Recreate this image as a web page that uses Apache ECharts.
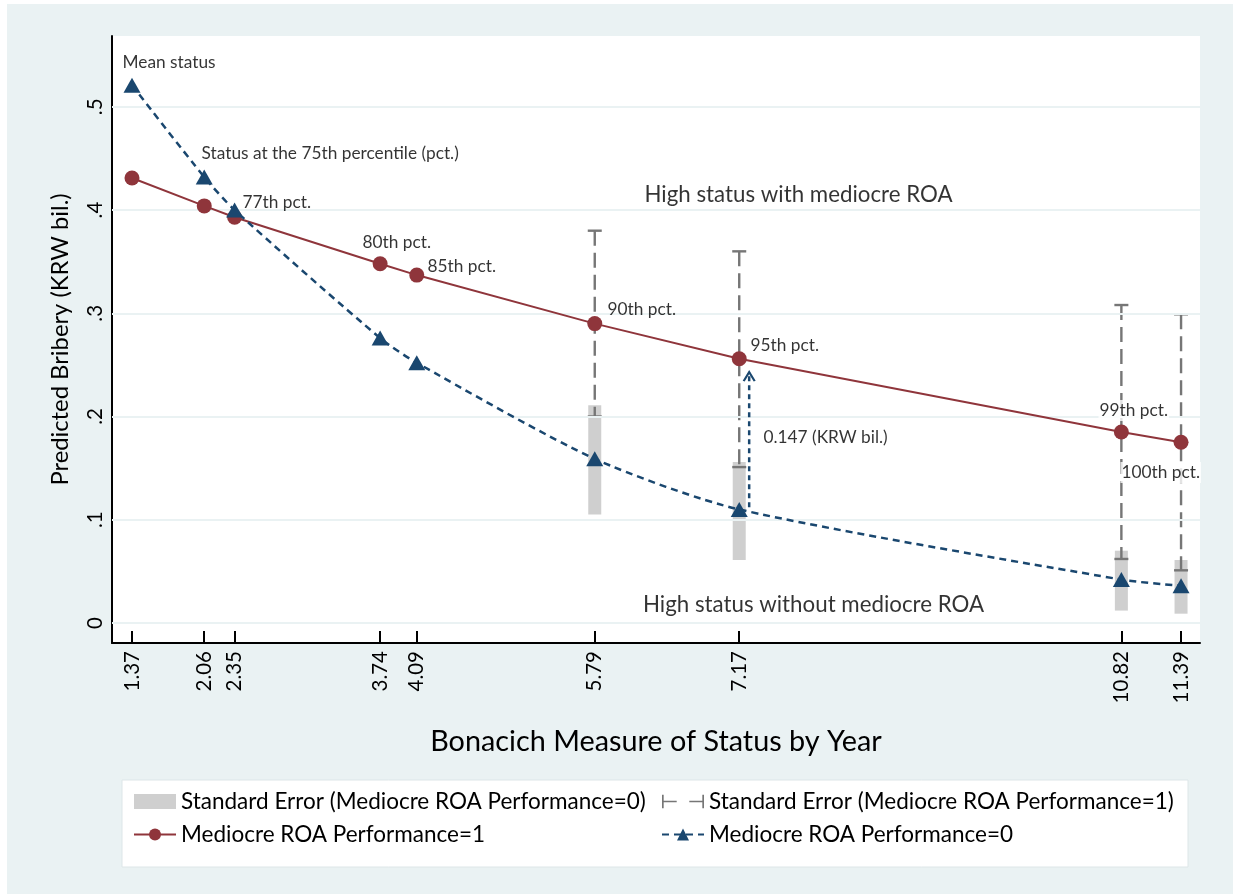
<!DOCTYPE html>
<html><head><meta charset="utf-8">
<script src="https://cdn.jsdelivr.net/npm/echarts@6/dist/echarts.min.js"></script>
<style>html,body{margin:0;padding:0;background:#fff}#c{width:1233px;height:894px}</style>
</head><body><div id="c"></div>
<script>
// ---- data ----
const statusX = [1.37, 2.06, 2.35, 3.74, 4.09, 5.79, 7.17, 10.82, 11.39];
const xTickLabels = ['1.37', '2.06', '2.35', '3.74', '4.09', '5.79', '7.17', '10.82', '11.39'];
const yTicks = [0, 0.1, 0.2, 0.3, 0.4, 0.5];
const yTickLabels = ['0', '.1', '.2', '.3', '.4', '.5'];
const mediocre1 = [0.431, 0.404, 0.393, 0.348, 0.337, 0.290, 0.256, 0.185, 0.175];
const mediocre0 = [0.521, 0.432, 0.400, 0.276, 0.252, 0.159, 0.110, 0.042, 0.036];
const seX = [5.79, 7.17, 10.82, 11.39];
const se0Low = [0.105, 0.061, 0.012, 0.009];
const se0High = [0.211, 0.156, 0.070, 0.061];
const se1Low = [0.200, 0.151, 0.062, 0.051];
const se1High = [0.380, 0.360, 0.308, 0.299];
const arrowX = [7.265, 7.265];
const arrowY = [0.112, 0.243];
const annText = ['Mean status', 'Status at the 75th percentile (pct.)', '77th pct.', '80th pct.', '85th pct.',
  '90th pct.', '95th pct.', '0.147 (KRW bil.)', '99th pct.', '100th pct.'];
const annX = [1.284, 2.039, 2.430, 3.576, 4.197, 5.916, 7.282, 7.406, 10.606, 10.816];
const annY = [0.5426, 0.4545, 0.407, 0.368, 0.345, 0.3033, 0.2684, 0.1793, 0.2054, 0.1453];
const bigText = ['High status with mediocre ROA', 'High status without mediocre ROA'];
const bigX = [7.741, 7.884];
const bigY = [0.4147, 0.0174];

const names = {
  se0: 'Standard Error (Mediocre ROA Performance=0)',
  se1: 'Standard Error (Mediocre ROA Performance=1)',
  m1: 'Mediocre ROA Performance=1',
  m0: 'Mediocre ROA Performance=0'
};
const FONT = 'Lato';
const RED = '#8f353b', BLUE = '#1a476f', GREYBAR = '#cfcfcf', GREYDASH = '#767676', BG = '#eaf2f3';

const chart = echarts.init(document.getElementById('c'), null, {renderer: 'canvas'});

const annData = annText.map((t, i) => ({
  value: [annX[i], annY[i]],
  label: {
    formatter: t,
    backgroundColor: (i >= 8) ? '#fff' : 'transparent',
    padding: (i >= 8) ? [2, 1] : 0
  }
}));
const bigData = bigText.map((t, i) => ({value: [bigX[i], bigY[i]], label: {formatter: t}}));

const option = {
  backgroundColor: '#fff',
  animation: false,
  textStyle: {fontFamily: FONT},
  graphic: [
    {type: 'rect', z: -10, shape: {x: 7, y: 4, width: 1226, height: 890}, style: {fill: BG}},
    {type: 'rect', z: -5, shape: {x: 122, y: 780, width: 1066, height: 87}, style: {fill: '#fff', stroke: '#dde6e8', lineWidth: 1}}
  ],
  grid: {left: 112, right: 33, top: 36, bottom: 251, show: true, backgroundColor: '#fff', borderWidth: 0, containLabel: false},
  xAxis: {
    type: 'value', min: 1.179, max: 11.571,
    name: 'Bonacich Measure of Status by Year', nameLocation: 'middle', nameGap: 84,
    nameTextStyle: {fontSize: 28.8, color: '#000', fontFamily: FONT},
    axisLine: {show: true, onZero: false, lineStyle: {color: '#000', width: 2}},
    axisTick: {show: true, inside: true, length: 12, customValues: statusX, lineStyle: {color: '#000', width: 2}},
    axisLabel: {show: true, rotate: 90, margin: 8, fontSize: 20.5, color: '#000', fontFamily: FONT,
      customValues: statusX,
      formatter: v => { const i = statusX.findIndex(s => Math.abs(s - v) < 1e-6); return i >= 0 ? xTickLabels[i] : ''; }},
    splitLine: {show: false}
  },
  yAxis: {
    type: 'value', min: -0.0194, max: 0.5686,
    name: 'Predicted Bribery (KRW bil.)', nameLocation: 'middle', nameGap: 40,
    nameTextStyle: {fontSize: 23.8, color: '#000', fontFamily: FONT},
    axisLine: {show: true, onZero: false, lineStyle: {color: '#000', width: 2}},
    axisTick: {show: true, inside: true, length: 12, customValues: yTicks, lineStyle: {color: '#000', width: 2}},
    axisLabel: {show: true, rotate: 90, margin: 6, fontSize: 20.5, color: '#000', fontFamily: FONT,
      customValues: yTicks,
      formatter: v => { const i = yTicks.findIndex(s => Math.abs(s - v) < 1e-6); return i >= 0 ? yTickLabels[i] : ''; }},
    splitLine: {show: false}
  },
  legend: [
    {
      left: 128, top: 785, orient: 'vertical', itemGap: 10, itemWidth: 42, itemHeight: 15,
      textStyle: {fontSize: 22.5, color: '#000', fontFamily: FONT, lineHeight: 22},
      data: [{name: names.se0, icon: 'rect'}, {name: names.m1}]
    },
    {
      left: 656, top: 785, orient: 'vertical', itemGap: 10, itemWidth: 42, itemHeight: 15,
      textStyle: {fontSize: 22.5, color: '#000', fontFamily: FONT, lineHeight: 22},
      data: [{name: names.se1, icon: 'path://M0,1h1.6v13h-1.6z M0,6.7h14v1.6h-14z M26,6.7h14v1.6h-14z M38.4,1h1.6v13h-1.6z'}, {name: names.m0}]
    }
  ],
  series: [
    {
      name: 'grid', type: 'line', data: [], silent: true, z: 0,
      markLine: {silent: true, symbol: 'none', label: {show: false},
        lineStyle: {color: BG, width: 2, type: 'solid'},
        data: yTicks.map(v => ({yAxis: v}))}
    },
    {
      name: names.se0, type: 'custom', z: 2,
      itemStyle: {color: GREYBAR},
      data: seX.map((x, i) => [x, se0Low[i], se0High[i]]),
      encode: {x: 0, y: [1, 2]},
      renderItem: (params, api) => {
        const x = api.value(0);
        const top = api.coord([x, api.value(2)]);
        const bot = api.coord([x, api.value(1)]);
        return {type: 'rect', shape: {x: top[0] - 6.5, y: top[1], width: 13, height: bot[1] - top[1]}, style: {fill: GREYBAR}};
      }
    },
    {
      name: names.se1, type: 'custom', z: 3,
      itemStyle: {color: GREYDASH},
      data: seX.map((x, i) => [x, se1Low[i], se1High[i]]),
      encode: {x: 0, y: [1, 2]},
      renderItem: (params, api) => {
        const x = api.value(0);
        const top = api.coord([x, api.value(2)]);
        const bot = api.coord([x, api.value(1)]);
        return {type: 'group', children: [
          {type: 'line', shape: {x1: top[0], y1: top[1], x2: bot[0], y2: bot[1]}, style: {stroke: GREYDASH, lineWidth: 2.4, lineDash: [15, 7]}},
          {type: 'line', shape: {x1: top[0] - 7, y1: top[1], x2: top[0] + 7, y2: top[1]}, style: {stroke: GREYDASH, lineWidth: 2.4}},
          {type: 'line', shape: {x1: bot[0] - 7, y1: bot[1], x2: bot[0] + 7, y2: bot[1]}, style: {stroke: GREYDASH, lineWidth: 2.4}}
        ]};
      }
    },
    {
      name: names.m1, type: 'line', z: 5,
      data: statusX.map((x, i) => [x, mediocre1[i]]),
      symbol: 'circle', symbolSize: 15,
      itemStyle: {color: RED},
      lineStyle: {color: RED, width: 2}
    },
    {
      name: names.m0, type: 'line', z: 6, smooth: 0.25,
      data: statusX.map((x, i) => [x, mediocre0[i]]),
      symbol: 'triangle', symbolSize: [17, 15],
      itemStyle: {color: BLUE},
      lineStyle: {color: BLUE, width: 2.5, type: [7, 5]}
    },
    {
      name: 'arrow', type: 'line', z: 7,
      data: arrowX.map((x, i) => ({value: [x, arrowY[i]], symbol: i === 0 ? 'none' : 'path://M0,10 L5,0 L10,10', symbolSize: [11, 9], symbolOffset: [0, 4.5]})),
      itemStyle: {color: 'rgba(0,0,0,0)', borderColor: BLUE, borderWidth: 2},
      lineStyle: {color: BLUE, width: 2.5, type: [5, 4]},
      silent: true
    },
    {
      name: 'annotations', type: 'scatter', z: 8, silent: true,
      symbolSize: 1, itemStyle: {color: 'rgba(0,0,0,0)'},
      label: {show: true, position: [0, 0], align: 'left', verticalAlign: 'middle', fontSize: 17.3, color: '#000', fontFamily: FONT},
      data: annData
    },
    {
      name: 'bigAnnotations', type: 'scatter', z: 8, silent: true,
      symbolSize: 1, itemStyle: {color: 'rgba(0,0,0,0)'},
      label: {show: true, position: [0, 0], align: 'center', verticalAlign: 'middle', fontSize: 22.3, color: '#000', fontFamily: FONT},
      data: bigData
    }
  ]
};
chart.setOption(option);
</script>
</body></html>
